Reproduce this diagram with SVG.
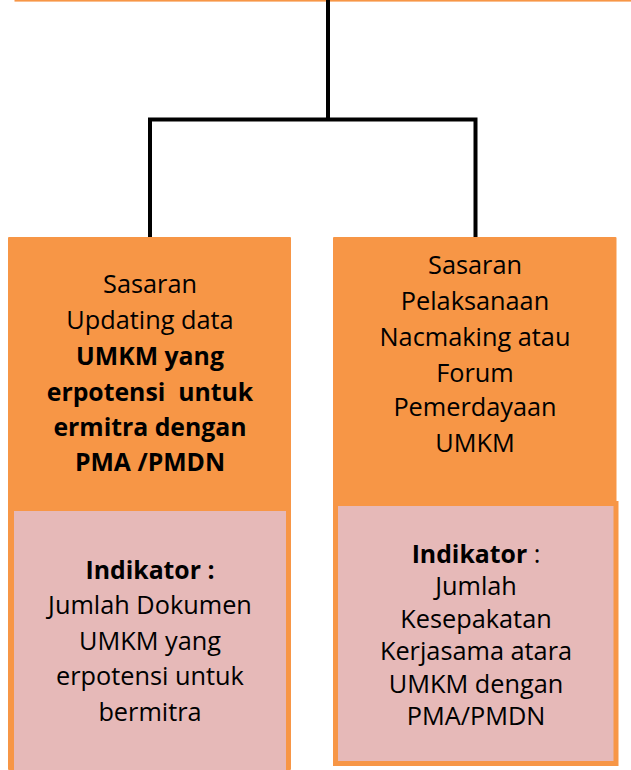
<svg xmlns="http://www.w3.org/2000/svg" width="631" height="770" viewBox="0 0 631 770">
  <style>
    .orange { fill: #F79646; }
    .pink { fill: #E6B9B8; }
    .pinkb { fill: #E6B9B8; stroke: #F79646; stroke-width: 5; }
    .conn { fill: none; stroke: #000000; stroke-width: 4; stroke-linejoin: miter; stroke-linecap: butt; }
    text { font-family: "Open Sans", "Noto Sans", sans-serif; font-size: 25.3px; fill: #000000; text-anchor: middle; }
    .b { font-weight: bold; font-size: 24.8px; }
  </style>
  <rect x="14.5" y="0" width="616.5" height="1.6" fill="#F79646"/>
  <g id="connectors">
    <path class="conn" d="M328,0 V119.5"/>
    <path class="conn" d="M150,237 V119.5 H475.5 V237"/>
  </g>
  <g id="node-left-sasaran">
    <rect class="orange" x="8" y="237" width="283" height="533" rx="1"/>
    <text x="150" y="293">Sasaran</text>
    <text x="150" y="329">Updating data</text>
    <text x="150" y="365" class="b">UMKM yang</text>
    <text x="150" y="401" class="b" xml:space="preserve">erpotensi  untuk</text>
    <text x="150" y="436" class="b">ermitra dengan</text>
    <text x="150" y="471" class="b">PMA /PMDN</text>
  </g>
  <g id="node-left-indikator">
    <rect class="pink" x="14" y="511" width="272" height="259"/>
    <text x="150" y="579" class="b">Indikator :</text>
    <text x="150" y="614">Jumlah Dokumen</text>
    <text x="150" y="650">UMKM yang</text>
    <text x="150" y="685">erpotensi untuk</text>
    <text x="150" y="721">bermitra</text>
  </g>
  <g id="node-right-sasaran">
    <rect class="orange" x="333" y="237" width="283.5" height="266" rx="1"/>
    <text x="475" y="274">Sasaran</text>
    <text x="475" y="310">Pelaksanaan</text>
    <text x="475" y="346">Nacmaking atau</text>
    <text x="475" y="382">Forum</text>
    <text x="475" y="416">Pemerdayaan</text>
    <text x="475" y="452">UMKM</text>
  </g>
  <g id="node-right-indikator">
    <rect class="pinkb" x="335.5" y="503.5" width="280.5" height="260"/>
    <text x="476" y="563"><tspan class="b">Indikator</tspan> :</text>
    <text x="476" y="595">Jumlah</text>
    <text x="476" y="628">Kesepakatan</text>
    <text x="476" y="660">Kerjasama atara</text>
    <text x="476" y="693">UMKM dengan</text>
    <text x="476" y="725">PMA/PMDN</text>
  </g>
</svg>
